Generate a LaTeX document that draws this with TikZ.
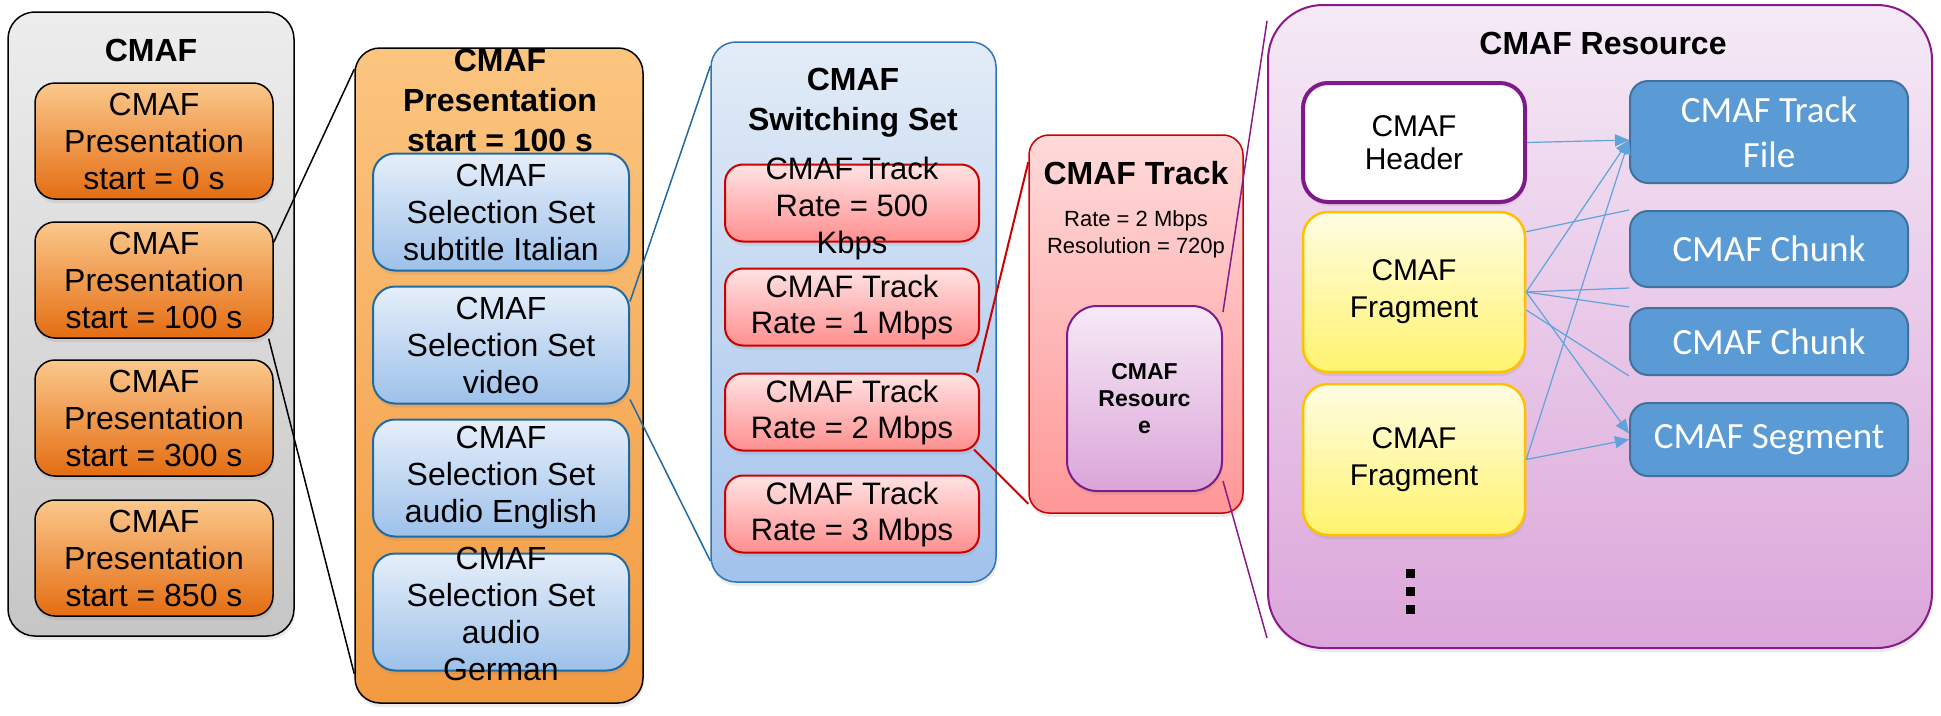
\documentclass[tikz,border=0pt]{standalone}
\usepackage{fontspec}
\setmainfont{Liberation Sans}
\newfontfamily\calfont{Carlito}
\usetikzlibrary{shadows}
\usetikzlibrary{arrows.meta}

\definecolor{greyTop}{HTML}{EDEDED}
\definecolor{greyBot}{HTML}{C6C6C6}
\definecolor{orTop}{HTML}{FBC88C}
\definecolor{orBot}{HTML}{E46D12}
\definecolor{presTop}{HTML}{FBC580}
\definecolor{presBot}{HTML}{F39A40}
\definecolor{selTop}{HTML}{E6EFFA}
\definecolor{selBot}{HTML}{9DC1EA}
\definecolor{selLine}{HTML}{1F6AA5}
\definecolor{swTop}{HTML}{E3ECF7}
\definecolor{swBot}{HTML}{A2C2EC}
\definecolor{swLine}{HTML}{2E75B6}
\definecolor{trTop}{HTML}{FFE3E3}
\definecolor{trBot}{HTML}{FF8F8F}
\definecolor{trLine}{HTML}{CC0000}
\definecolor{trkTop}{HTML}{FFDADA}
\definecolor{trkBot}{HTML}{FF9797}
\definecolor{resTop}{HTML}{F6EAF6}
\definecolor{resBot}{HTML}{DBA5D9}
\definecolor{resLine}{HTML}{7F1A8C}
\definecolor{crTop}{HTML}{F5EAF6}
\definecolor{crBot}{HTML}{DCA6DA}
\definecolor{crLine}{HTML}{8A1A8A}
\definecolor{fragTop}{HTML}{FFFDE3}
\definecolor{fragBot}{HTML}{FFF36E}
\definecolor{fragLine}{HTML}{FFC000}
\definecolor{fileFill}{HTML}{5B9BD5}
\definecolor{fileLine}{HTML}{41719C}
\definecolor{linkBlue}{HTML}{5FA3DA}

\begin{document}
\begin{tikzpicture}[x=1pt, y=-1pt,
    txt/.style={align=center, font=\fontsize{32}{37}\selectfont},
    title/.style={align=center, font=\bfseries\fontsize{32}{40}\selectfont},
    shade/.style={drop shadow={opacity=0.16, shadow xshift=1pt, shadow yshift=-4pt}},
    greybox/.style={draw=black, line width=1.5pt, rounded corners=27pt, top color=greyTop, bottom color=greyBot,
      minimum width=286pt, minimum height=624pt, inner sep=0pt, shade},
    presbox/.style={draw=black, line width=1.5pt, rounded corners=20pt, top color=orTop, bottom color=orBot,
      minimum width=238pt, minimum height=116pt, inner sep=0pt, txt, shade},
    bigpres/.style={draw=black, line width=1.5pt, rounded corners=25pt, top color=presTop, bottom color=presBot,
      minimum width=288pt, minimum height=655pt, inner sep=0pt, shade},
    selbox/.style={draw=selLine, line width=2pt, rounded corners=22pt, top color=selTop, bottom color=selBot,
      minimum width=256pt, minimum height=117pt, inner sep=0pt, txt, shade},
    swbox/.style={draw=swLine, line width=1.5pt, rounded corners=25pt, top color=swTop, bottom color=swBot,
      minimum width=285pt, minimum height=540pt, inner sep=0pt, shade},
    trackbox/.style={draw=trLine, line width=2pt, rounded corners=18pt, top color=trTop, bottom color=trBot,
      minimum width=254pt, minimum height=77pt, inner sep=0pt, txt, font=\fontsize{31}{36}\selectfont, shade},
    trkbox/.style={draw=trLine, line width=1.5pt, rounded corners=20pt, top color=trkTop, bottom color=trkBot,
      minimum width=214pt, minimum height=378pt, inner sep=0pt, shade},
    resbox/.style={draw=resLine, line width=2pt, rounded corners=30pt, top color=resTop, bottom color=resBot,
      minimum width=155pt, minimum height=185pt, inner sep=0pt, align=center,
      font=\bfseries\fontsize{23}{27}\selectfont, shade},
    crbox/.style={draw=crLine, line width=2pt, rounded corners=55pt, top color=crTop, bottom color=crBot,
      minimum width=664pt, minimum height=643pt, inner sep=0pt, shade},
    hdrbox/.style={draw=resLine, line width=4pt, rounded corners=25pt, fill=white,
      minimum width=222pt, minimum height=119pt, inner sep=0pt, align=center,
      font=\fontsize{30}{33}\selectfont, shade},
    fragbox/.style={draw=fragLine, line width=2.5pt, rounded corners=25pt, top color=fragTop, bottom color=fragBot,
      minimum width=222pt, inner sep=0pt, align=center, font=\fontsize{30}{37}\selectfont, shade},
    filebox/.style={draw=fileLine, line width=2pt, rounded corners=18pt, fill=fileFill, text=white,
      minimum width=278pt, inner sep=0pt, align=center, font=\calfont\fontsize{37}{45}\selectfont},
    blackline/.style={line width=1.5pt, black},
    blueline/.style={line width=1.5pt, selLine},
    redline/.style={line width=2pt, trLine},
    purpline/.style={line width=1.5pt, crLine},
    link/.style={line width=1.2pt, linkBlue},
    linkarrow/.style={link, -{Triangle[length=14pt, width=12pt]}}]
    \useasboundingbox (0,0) rectangle (1941,715);

    % draw CMAF box with presentations
    \node[greybox] (cmaf) at (151,324) {};
    \node[title] (cmaftitle) at (151,50) {CMAF};
    \foreach \y/\t in {141/0,280/100,418/300,558/850}
      \node[presbox] (p\t) at (154,\y) {CMAF\\Presentation\\start = \t\ s};

    % draw presentation with selection sets
    \node[bigpres] (pres) at (499,375.5) {};
    \node[selbox] (ss1) at (501,212) {CMAF\\Selection Set\\subtitle Italian};
    \node[selbox] (ss2) at (501,345) {CMAF\\Selection Set\\video};
    \node[selbox] (ss3) at (501,478) {CMAF\\Selection Set\\audio English};
    \node[selbox, label={[txt, yshift=-2pt]center:{CMAF\\Selection Set\\audio\\German}}] (ss4) at (501,612) {};
    \node[title] (prestitle) at (500,100) {CMAF\\Presentation\\start = 100 s};

    % draw switching set with tracks
    \node[swbox] (sw) at (853.5,312) {};
    \node[title] (swtitle) at (853,103) {CMAF\\Switching Set};
    \node[trackbox, label={[txt, font=\fontsize{31}{37}\selectfont, yshift=-5pt]center:{CMAF Track\\Rate = 500\\Kbps}}] (tr500) at (852,203) {};
    \foreach \y/\r in {307/1,412/2,514/3}
      \node[trackbox] (tr\r) at (852,\y) {CMAF Track\\Rate = \r\ Mbps};

    % draw track
    \node[trkbox] (trk) at (1136,324) {};
    \node[title] (trktitle) at (1136,173) {CMAF Track};
    \node[align=center, font=\fontsize{22}{27}\selectfont] (trkinfo) at (1136,234) {Rate = 2 Mbps\\Resolution = 720p};
    \node[resbox] (res) at (1144.5,398.5) {CMAF\\Resourc\\e};

    % draw resource
    \node[crbox] (cr) at (1600,326.5) {};
    \node[title] (crtitle) at (1603,43) {CMAF Resource};
    \node[hdrbox] (hdr) at (1414,142.5) {CMAF\\Header};
    \node[fragbox, minimum height=160pt] (frag1) at (1414,292) {CMAF\\Fragment};
    \node[fragbox, minimum height=151pt] (frag2) at (1414,459.5) {CMAF\\Fragment};
    \foreach \y in {573,591,609}
      \fill (1405.5,\y-4.5) rectangle ++(9,9);
    \node[filebox, minimum height=102pt] (tf) at (1769,132) {CMAF Track\\File};
    \node[filebox, minimum height=76pt] (ch1) at (1769,249) {CMAF Chunk};
    \node[filebox, minimum height=67pt] (ch2) at (1769,341.5) {CMAF Chunk};
    \node[filebox, minimum height=73pt] (seg) at (1769,439.5) {CMAF Segment};

    % draw zoom lines
    \draw[blackline] ([yshift=-21pt]p100.north east) -- ([yshift=-22pt]pres.north west);
    \draw[blackline] ([xshift=-5pt]p100.south east) -- ([yshift=30pt]pres.south west);
    \draw[blueline] ([yshift=-16pt]ss2.north east) -- ([yshift=-25pt]sw.north west);
    \draw[blueline] ([yshift=5pt]ss2.south east) -- ([yshift=22pt]sw.south west);
    \draw[redline] ([xshift=-3pt]tr2.north east) -- ([yshift=-28pt]trk.north west);
    \draw[redline] ([xshift=-6pt,yshift=2pt]tr2.south east) -- ([yshift=10pt]trk.south west);
    \draw[purpline] ([yshift=-7pt]res.north east) -- ([yshift=-17pt]cr.north west);
    \draw[purpline] ([yshift=11pt]res.south east) -- ([yshift=11pt]cr.south west);

    % draw links inside the resource
    \draw[linkarrow] (hdr.east) -- ([yshift=-8pt]tf.west);
    \draw[linkarrow] (frag1.east) -- ([yshift=-8pt]tf.west);
    \draw[linkarrow] (frag2.east) -- ([yshift=-8pt]tf.west);
    \draw[link] ([yshift=-21pt]frag1.north east) -- (ch1.north west);
    \draw[link] (frag1.east) -- (ch1.south west);
    \draw[link] (frag1.east) -- (ch2.north west);
    \draw[link] ([yshift=-18pt]frag1.east) -- (ch2.south west);
    \draw[linkarrow] (frag1.east) -- ([yshift=6pt]seg.west);
    \draw[linkarrow] (frag2.east) -- (seg.west);
\end{tikzpicture}
\end{document}
